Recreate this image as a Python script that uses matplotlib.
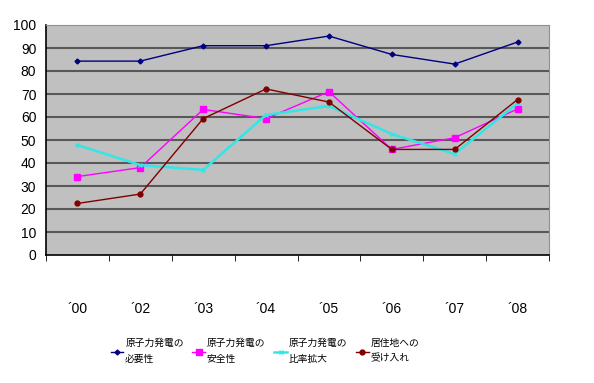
import numpy as np
import matplotlib
matplotlib.use('Agg')
import matplotlib.pyplot as plt

plt.rcParams['font.family'] = ['Liberation Sans', 'Noto Sans CJK JP', 'DejaVu Sans']

# Data
years = ['´00', '´02', '´03', '´04', '´05', '´06', '´07', '´08']
necessity = [84.3, 84.3, 91, 91, 95.2, 87.2, 83, 92.6]
safety = [34.1, 38, 63.3, 59.3, 71, 45.9, 51, 63.5]
expansion = [47.8, 39.1, 37, 60.9, 64.8, 52.6, 43.9, 66]
acceptance = [22.4, 26.5, 59.3, 72.2, 66.5, 45.9, 45.9, 67.6]
labels = ['原子力発電の\n必要性', '原子力発電の\n安全性', '原子力発電の\n比率拡大', '居住地への\n受け入れ']

fig = plt.figure(figsize=(5.94, 3.83), dpi=100)
ax = fig.add_axes([46/594, 1 - 255/383, 503/594, 230/383])
ax.set_facecolor('#c0c0c0')

x = np.arange(len(years))
ax.plot(x, necessity, color='#000080', lw=1, marker='D', ms=2.5, label=labels[0], zorder=3)
ax.plot(x, safety, color='#ff00ff', lw=1, marker='s', ms=4, label=labels[1], zorder=3)
ax.plot(x, expansion, color='#33e6e6', lw=1.8, marker='x', ms=3, mew=1, label=labels[2], zorder=3)
ax.plot(x, acceptance, color='#800000', lw=1, marker='o', ms=3.5, label=labels[3], zorder=3)

ax.set_xlim(-0.5, len(years) - 0.5)
ax.set_ylim(0, 100)
ax.set_yticks(range(0, 101, 10))
for v in range(10, 100, 10):
    ax.axhline(v, color='#585858', lw=1.5, zorder=1)

ax.set_xticks(x)
ax.set_xticklabels(years, fontsize=10)
ax.set_xticks(np.arange(-0.5, len(years)), minor=True)
ax.tick_params(axis='x', which='major', length=0, pad=34)
ax.tick_params(axis='x', which='minor', length=4, direction='out', color='black')
ax.tick_params(axis='y', length=0, pad=7, labelsize=10)

for s in ['top', 'right']:
    ax.spines[s].set_color('#909090')
for s in ['left', 'bottom']:
    ax.spines[s].set_color('black')
    ax.spines[s].set_linewidth(1.2)

fig.legend(loc='center', bbox_to_anchor=(265/594, 1 - 351/383), ncol=4, frameon=False,
           prop={'family': ['Noto Sans CJK JP'], 'size': 7}, handlelength=1.3,
           handletextpad=0.2, columnspacing=0.9, labelspacing=0)
for t in fig.legends[0].get_texts():
    t.set_linespacing(1.7)

fig.savefig('out.png', dpi=100)
